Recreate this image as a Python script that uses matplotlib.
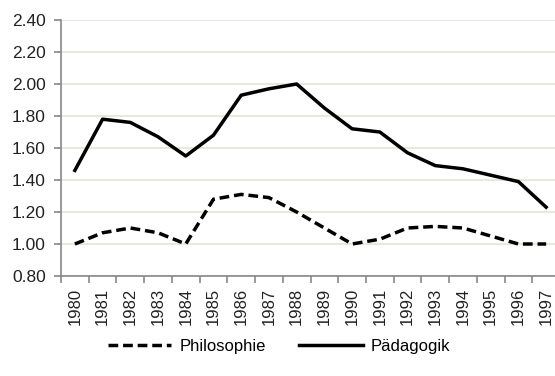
import matplotlib
matplotlib.use("Agg")
import matplotlib.pyplot as plt
from matplotlib.lines import Line2D

years = [str(y) for y in range(1980, 1998)]
philosophie = [1.00, 1.07, 1.10, 1.07, 1.00, 1.28, 1.31, 1.29, 1.20, 1.10,
               1.00, 1.03, 1.10, 1.11, 1.10, 1.05, 1.00, 1.00]
paedagogik = [1.46, 1.78, 1.76, 1.67, 1.55, 1.68, 1.93, 1.97, 2.00, 1.85,
              1.72, 1.70, 1.57, 1.49, 1.47, 1.43, 1.39, 1.23]
y_ticks = [0.80, 1.00, 1.20, 1.40, 1.60, 1.80, 2.00, 2.20, 2.40]

plt.rcParams['font.family'] = ['Liberation Sans', 'DejaVu Sans']

W, H = 555, 376
fig = plt.figure(figsize=(W / 100, H / 100), dpi=100)
left, right, top, bottom = 61, 560, 20, 276
ax = fig.add_axes([left / W, 1 - bottom / H, (right - left) / W, (bottom - top) / H])

dash = (0, (2.8, 1.4))
lw = 2.5
x = list(range(len(years)))
ax.plot(x, philosophie, color='black', lw=lw, linestyle=dash, label='Philosophie')
ax.plot(x, paedagogik, color='black', lw=lw, label='Pädagogik', solid_joinstyle='round')

ax.set_xlim(-0.5, len(years) - 0.5)
ax.set_ylim(0.8, 2.4)
ax.set_yticks(y_ticks)
ax.set_yticklabels([f"{v:.2f}" for v in y_ticks], fontsize=12.5, color='#222222')
ax.yaxis.grid(True, color='#EAE3D3', lw=1.2)
ax.set_axisbelow(True)

ax.set_xticks(x)
ax.set_xticklabels(years, rotation=90, fontsize=12, color='#222222')
ax.tick_params(axis='x', length=0, pad=8.5)
ax.set_xticks([i - 0.5 for i in range(len(years) + 1)], minor=True)
ax.tick_params(axis='x', which='minor', length=5, color='#888888', width=1.2)
ax.tick_params(axis='y', length=5, color='#888888', width=1.2, pad=6, direction='out')

for s in ['top', 'right']:
    ax.spines[s].set_visible(False)
for s in ['left', 'bottom']:
    ax.spines[s].set_color('#888888')
    ax.spines[s].set_linewidth(1.2)

handles = [Line2D([], [], color='black', lw=lw, linestyle=dash),
           Line2D([], [], color='black', lw=lw)]
fig.legend(handles, ['Philosophie', 'Pädagogik'], loc='center',
           bbox_to_anchor=(0.503, 1 - 346 / H), ncol=2, frameon=False,
           fontsize=12, handlelength=3.8, columnspacing=2.0, handletextpad=0.5)

fig.savefig("out.png", dpi=100)
